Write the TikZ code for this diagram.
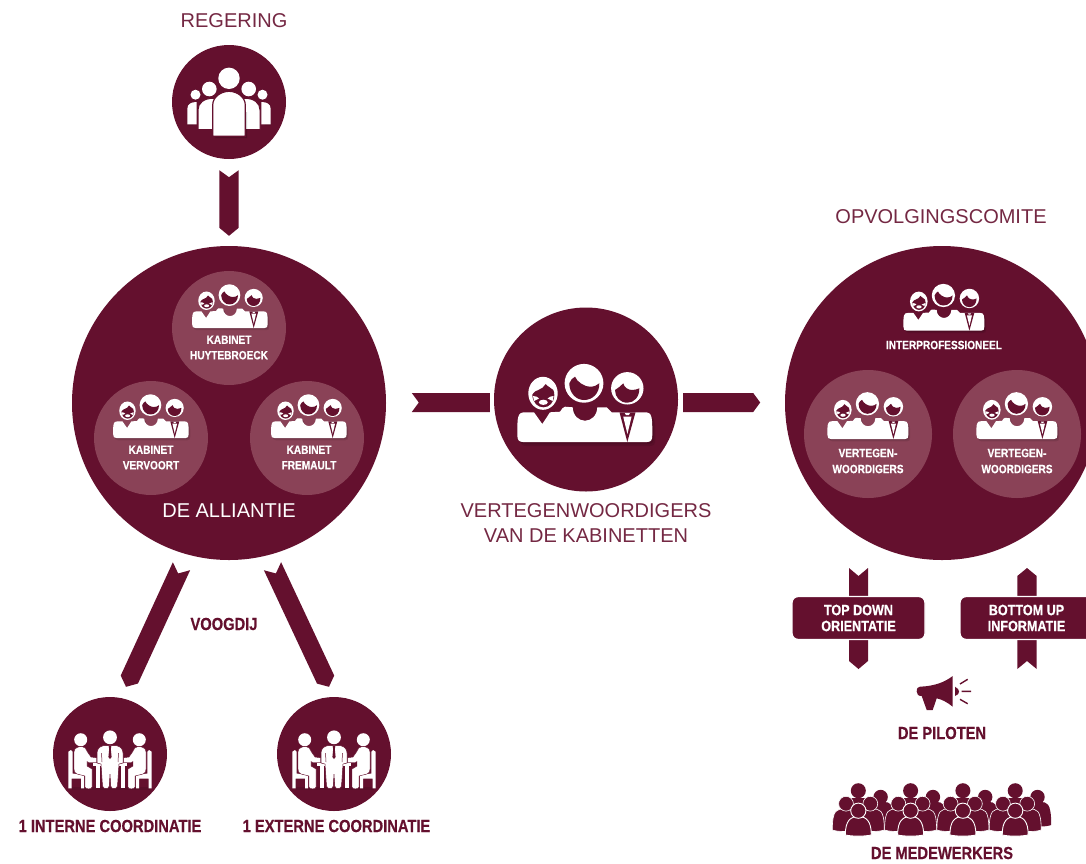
\documentclass[tikz,border=0pt]{standalone}
\usepackage{fontspec}
\usetikzlibrary{calc}
\setmainfont{Liberation Sans}
\newfontfamily\bcfam{Liberation Sans}[UprightFont=* Bold,FakeStretch=.84,FakeBold=.5]
\newcommand\bcf[2]{\bcfam\fontsize{#1}{#2}\selectfont}
\definecolor{wine}{HTML}{64102E}
\definecolor{rose}{HTML}{8A4257}
% trio icon shapes (origin: bottom centre of the bodies)
\newcommand\triobody{(-67.7,-7) .. controls (-67.7,-25) and (-67.7,-29.7) .. (-60,-29.7) -- (-51,-29.7) -- (-42.7,-18) -- (-35,-29.7) -- (-25,-30.3) .. controls (-23,-33) and (-22,-35.3) .. (-20,-35.3) -- (-12.3,-34.7) .. controls (-12,-26) and (-6,-21.3) .. (0,-21.3) .. controls (6,-21.3) and (12,-26) .. (12.3,-34.7) -- (21.7,-34.7) -- (26.7,-29.7) -- (60,-29.7) .. controls (67.3,-29.7) and (67.3,-25) .. (67.3,-7) .. controls (67.3,-2) and (66,0) .. (62,0) -- (-62,0) .. controls (-66,0) and (-67.7,-2) .. (-67.7,-7) -- cycle}
\newcommand\megaphone{(916.7,691.7) .. controls (916.7,688) and (918,686.7) .. (920,686.7) .. controls (935,686) and (945,682) .. (952.7,676) -- (952.7,706.7) .. controls (947,702) and (942,699.5) .. (936.7,698.3) -- (932.7,710) -- (926.7,710) -- (921.7,696) .. controls (918.5,696) and (916.7,694.5) .. (916.7,691.7) -- cycle}
\newcommand\crowdbody[4]{(#1-#3,#2) .. controls (#1-#3,#2-#4) and (#1-#3*.6,#2-#4) .. (#1,#2-#4) .. controls (#1+#3*.6,#2-#4) and (#1+#3,#2-#4) .. (#1+#3,#2) .. controls (#1+#3*.5,#2+2) and (#1-#3*.5,#2+2) .. (#1-#3,#2) -- cycle}
\tikzset{
  x=1pt,y=-1pt,
  disc/.style={circle,fill=wine,inner sep=0pt,minimum size=#1},
  rdisc/.style={circle,fill=rose,inner sep=0pt,minimum size=#1},
  thinlabel/.style={text=wine!90!white,inner sep=0pt,align=center,font=\fontsize{20}{25}\selectfont},
  boldlabel/.style={text=wine,inner sep=0pt,align=center,font=\bcf{17.5}{18}},
  whitelabel/.style={text=white,inner sep=0pt,align=center,font=\bcf{12}{15.5}},
  ribbonbox/.style={rounded corners=6pt,fill=wine,draw=white,line width=1.4pt,minimum width=133pt,minimum height=43pt,inner sep=0pt,text=white,align=center,font=\bcf{15}{16}},
  pics/trio/.style={code={
    \fill[black,opacity=.10] [shift={(3,4)}] \triobody;
    \fill[black,opacity=.10] [shift={(1.5,2)}] \triobody;
    \fill[white] \triobody;
    % left head
    \fill[white] (-42,-48.7) ellipse [x radius=14.7,y radius=16.5];
    \fill[wine] (-52.7,-47.5) .. controls (-51,-50) and (-49,-51.5) .. (-46.7,-52) .. controls (-43.5,-53) and (-41,-55) .. (-39.3,-58) .. controls (-37,-55) and (-33.5,-54) .. (-31.7,-52) .. controls (-31,-50.5) and (-30.7,-49) .. (-30.7,-47) .. controls (-31,-39) and (-36,-34.7) .. (-41.7,-34.7) .. controls (-47,-34.7) and (-52.5,-39) .. (-52.7,-47.5) -- cycle;
    \fill[white] (-41.7,-39.7) ellipse [x radius=4.5,y radius=2.6];
    \fill[white] (-52,-46) .. controls (-49,-46) and (-47,-45) .. (-46,-43.5) .. controls (-48,-42.5) and (-50,-41.5) .. (-51,-41) -- cycle;
    \fill[white] (-31.4,-46) .. controls (-34,-46) and (-36,-45) .. (-37.4,-43.5) .. controls (-35.4,-42.5) and (-33.4,-41.5) .. (-32.4,-41) -- cycle;
    % middle head
    \fill[white] (-1,-58.7) circle [radius=19.4];
    \fill[wine] (-15.7,-58.7) .. controls (-15,-62) and (-12,-64) .. (-10,-65.3) .. controls (-8,-60) and (0,-55) .. (5,-55.3) .. controls (9,-55.3) and (12,-56.5) .. (14.3,-58.7) .. controls (14.5,-49) and (8,-42) .. (-1,-42) .. controls (-9,-42) and (-15.7,-49) .. (-15.7,-58.7) -- cycle;
    % right head
    \fill[white] (42.3,-53.7) circle [radius=16.2];
    \fill[wine] (30,-52) .. controls (33,-54) and (36,-56) .. (38.3,-58.7) .. controls (39,-55) and (43,-52) .. (46.7,-52) .. controls (49,-52) and (52,-52.5) .. (54.3,-53.7) .. controls (54.5,-45) and (49,-39.3) .. (42.3,-39.3) .. controls (35,-39.3) and (30,-45) .. (30,-52) -- cycle;
    % tie
    \fill[wine] (34.5,-29.7) -- (42.3,0) -- (50.5,-29.7) -- cycle;
    \fill[white] (38.2,-25.5) -- (46.6,-25.5) -- (42.4,-8) -- cycle;
    \fill[white] (39.8,-29) -- (45,-29) -- (43.8,-26.8) -- (41,-26.8) -- cycle;
  }},
  pics/regicon/.style={code={
    \foreach \sx in {-1,1}{
      \fill[black,opacity=.12,xscale=\sx] (36,23.5) -- (41.5,23.5) -- (41.5,4) .. controls (41.5,0) and (36,0) .. (33,1) -- cycle;
      \fill[white,xscale=\sx] (33.5,-7.3) circle [radius=5];
      \fill[white,xscale=\sx] (32.3,22.3) -- (41.7,22.3) -- (41.7,7) .. controls (41.7,2) and (38,0) .. (32.3,0) -- cycle;
      \fill[white,xscale=\sx] (19.7,-13) circle [radius=7.3];
      \fill[white,xscale=\sx,draw=wine,line width=1pt] (12,27.7) -- (31,27.7) -- (31,8) .. controls (31,1) and (25,-3.7) .. (16,-3.7) .. controls (13,-3.7) and (12,-3) .. (10,-2) -- cycle;
    }
    \fill[black,opacity=.18] (-14.3,36) -- (18,36) -- (18,10) -- (14,10) -- cycle;
    \fill[white,draw=wine,line width=1.2pt] (-16.3,34.3) -- (-16.3,3) .. controls (-16.3,-5) and (-8,-10.7) .. (0,-10.7) .. controls (8,-10.7) and (16.3,-5) .. (16.3,3) -- (16.3,34.3) -- cycle;
    \fill[white] (0,-23.7) circle [radius=10.7];
  }},
  pics/meetside/.style={code={
    \fill[white] (-29.3,-14.3) circle [radius=6.5];
    % chair
    \fill[white] (-41.7,-2.3) -- (-39,-4) -- (-37.3,-2.3) -- (-37.3,19.5) -- (-26,21) -- (-26,34.3) -- (-29,34.3) -- (-29,24.5) -- (-38.5,24.5) -- (-38.5,34.3) -- (-41.7,34.3) -- cycle;
    % person
    \fill[white,draw=wine,line width=.4pt] (-36,-2) .. controls (-36,-6) and (-32,-7.5) .. (-28,-7.5) .. controls (-25,-7.5) and (-24,-5) .. (-22.5,-2) -- (-19,3) -- (-13.3,3.8) -- (-13.3,8.5) -- (-21,8.5) -- (-23,7.5) -- (-23,12) -- (-18,15) -- (-18,33) .. controls (-18,35.5) and (-24.8,35.5) .. (-25,33) -- (-25,22) -- (-33,20) .. controls (-35.5,19.5) and (-36,17) .. (-36,15) -- cycle;
  }},
  pics/meeting/.style={code={
    \fill[black,opacity=.10] (-38,36) -- (40,36) -- (40,33) -- (-38,33) -- cycle;
    \pic {meetside};
    \pic[xscale=-1] {meetside};
    % table
    \fill[white] (-16.7,9.3) -- (16.7,9.3) -- (16.7,12) -- (-16.7,12) -- cycle;
    \fill[white] (-14.5,12) -- (-10.5,12) -- (-10.5,34.3) -- (-14.5,34.3) -- cycle;
    \fill[white] (14.5,12) -- (10.5,12) -- (10.5,34.3) -- (14.5,34.3) -- cycle;
    % centre person
    \fill[white] (0,-16.7) circle [radius=6.9];
    \fill[white,draw=wine,line width=.5pt] (-6.7,-8.3) -- (6.7,-8.3) .. controls (10.5,-7.5) and (13,-5) .. (13,-1) -- (13,9) -- (9,10) -- (7.5,32) .. controls (7,35.5) and (1,35.5) .. (.7,32) -- (0,20) -- (-.7,32) .. controls (-1,35.5) and (-7,35.5) .. (-7.5,32) -- (-9,10) -- (-13,9) -- (-13,-1) .. controls (-13,-5) and (-10.5,-7.5) .. (-6.7,-8.3) -- cycle;
    \fill[wine] (-1.3,-8) -- (1.3,-8) -- (.8,-5) -- (1.6,3) -- (0,5) -- (-1.6,3) -- (-.8,-5) -- cycle;
    \draw[wine,line width=.5pt] (-8.5,-1) -- (-8,8);
    \draw[wine,line width=.5pt] (8.5,-1) -- (8,8);
  }},
  pics/crowdunit/.style={code={
    % far right
    \fill[wine] (22.3,-38) circle [radius=7.2];
    \fill[wine] \crowdbody{25}{-10}{11}{23};
    % back centre
    \fill[wine] (0,-44.3) circle [radius=7.5];
    \fill[wine] (-7,-37) rectangle (7,-25);
    % left/right of the middle row
    \fill[wine,draw=white,line width=.6pt] \crowdbody{-14}{-5}{12}{21};
    \fill[wine,draw=white,line width=.6pt] \crowdbody{14}{-5}{12}{21};
    \fill[wine,draw=white,line width=.6pt] (-12.3,-31.3) circle [radius=7.4];
    \fill[wine,draw=white,line width=.6pt] (12,-31.3) circle [radius=7.4];
    % front
    \fill[wine,draw=white,line width=.9pt] (-13,0) .. controls (-13,-14) and (-8,-18.5) .. (0,-18.5) .. controls (8,-18.5) and (13,-14) .. (13,0) .. controls (6,1.5) and (-6,1.5) .. (-13,0) -- cycle;
    \fill[wine,draw=white,line width=.9pt] (0,-24.3) circle [radius=7.6];
  }},
}
\newcommand\ribbon[5]{%
  \coordinate (rS) at ($(#1)!#4!(#2)$);
  \coordinate (rE) at ($(#2)!#5!(#1)$);
  \fill[wine] ($(#1)!#3!90:(#2)$) -- (rS) -- ($(#1)!#3!-90:(#2)$) -- ($(rE)!#3!90:(#1)$) -- (#2) -- ($(rE)!#3!-90:(#1)$) -- cycle;}
\begin{document}
\begin{tikzpicture}
\useasboundingbox (0,0) rectangle (1086,863);
% main discs
\node[disc=114pt] (reg) at (229,102) {};
\node[disc=314pt] (all) at (229,403) {};
\node[disc=184pt] (mid) at (586,399.5) {};
\node[disc=314pt] (opv) at (942,403) {};
\node[disc=114pt] (intc) at (110,754) {};
\node[disc=114pt] (extc) at (334,754) {};
% inner discs
\node[rdisc=114pt] (huy) at (229,328) {};
\node[rdisc=114pt] (ver) at (151,438) {};
\node[rdisc=114pt] (fre) at (307,438) {};
\node[rdisc=128pt] (vl) at (868,434) {};
\node[rdisc=128pt] (vr) at (1017,434) {};
% icons
\pic at (reg.center) {regicon};
\pic at ($(mid.center)+(-1,42.5)$) {trio};
\pic[scale=.56] at ($(huy.center)+(1,0)$) {trio};
\pic[scale=.56] at (ver.center) {trio};
\pic[scale=.56] at ($(fre.center)+(2,0)$) {trio};
\pic[scale=.6] at ($(opv.center)+(2,-72.3)$) {trio};
\pic[scale=.6] at ($(vl.center)+(0,5)$) {trio};
\pic[scale=.6] at ($(vr.center)+(0,5)$) {trio};
\pic at (intc.center) {meeting};
\pic at (extc.center) {meeting};
% connectors
\coordinate (a1s) at ($(reg.south)+(0,11)$);
\coordinate (a1e) at ($(all.north)+(0,-10)$);
\ribbon{a1s}{a1e}{9.7pt}{7pt}{8pt}
\coordinate (a2s) at ($(mid.west)+(-82,3)$);
\coordinate (a2e) at ($(mid.west)+(-4,3)$);
\ribbon{a2s}{a2e}{9.5pt}{7pt}{0pt}
\coordinate (a3s) at ($(mid.east)+(5,3)$);
\coordinate (a3e) at ($(mid.east)+(82,3)$);
\ribbon{a3s}{a3e}{9.5pt}{0pt}{7pt}
\coordinate (a4s) at ($(all.south)+(-47.5,6)$);
\coordinate (a4e) at ($(intc.north)+(16,-10)$);
\ribbon{a4s}{a4e}{9.5pt}{8pt}{8pt}
\coordinate (a5s) at ($(all.south)+(43.5,6)$);
\coordinate (a5e) at ($(extc.north)+(-5,-10)$);
\ribbon{a5s}{a5e}{9.5pt}{8pt}{8pt}
\coordinate (tdc) at (858.5,618);
\coordinate (buc) at (1026.5,618);
\coordinate (a6s) at ($(tdc)+(0,-50)$);
\coordinate (a6e) at ($(tdc)+(0,51)$);
\coordinate (a7s) at ($(buc)+(.5,51)$);
\coordinate (a7e) at ($(buc)+(.5,-50)$);
\ribbon{a6s}{a6e}{9.5pt}{8pt}{8pt}
\ribbon{a7s}{a7e}{9.7pt}{8pt}{8pt}
\node[ribbonbox] (td) at (tdc) {TOP DOWN\\ORIENTATIE};
\node[ribbonbox] (bu) at (buc) {BOTTOM UP\\INFORMATIE};
% labels
\node[thinlabel] (lreg) at (234,21) {REGERING};
\node[thinlabel] (lopv) at (941,217) {OPVOLGINGSCOMITE};
\node[thinlabel,text=white] (lall) at (229,511) {DE ALLIANTIE};
\node[thinlabel] (lmid) at (586,523.5) {VERTEGENWOORDIGERS\\VAN DE KABINETTEN};
\node[whitelabel] (t1) at (229,347.5) {KABINET\\HUYTEBROECK};
\node[whitelabel] (t2) at (151,457.5) {KABINET\\VERVOORT};
\node[whitelabel] (t3) at (309,457.5) {KABINET\\FREMAULT};
\node[whitelabel] (t4) at (944,345) {INTERPROFESSIONEEL};
\node[whitelabel,font=\bcf{12}{16}] (t5) at (868,461) {VERTEGEN-\\WOORDIGERS};
\node[whitelabel,font=\bcf{12}{16}] (t6) at (1017,461) {VERTEGEN-\\WOORDIGERS};
\node[boldlabel] (vg) at (224,624) {VOOGDIJ};
\node[boldlabel] (l1) at (110,826) {1 INTERNE COORDINATIE};
\node[boldlabel] (l2) at (336.5,826) {1 EXTERNE COORDINATIE};
\node[boldlabel] (l3) at (942,733) {DE PILOTEN};
\node[boldlabel] (l4) at (942,853) {DE MEDEWERKERS};
% megaphone
\fill[wine] \megaphone;
\fill[wine] (955,686.7) .. controls (958,688) and (959,690) .. (959,691.7) .. controls (959,693.5) and (958,695) .. (955,696) -- cycle;
\draw[wine,line width=1.4pt] (960,684) -- (967.7,679.3) (961.7,691.3) -- (971,691.3) (960,699.3) -- (967.7,703.7);
% crowd
\coordinate (cr) at (858.3,835);
\foreach \k in {0,1,2,3} \pic at ($(cr)+(52.3*\k,0)$) {crowdunit};
\end{tikzpicture}
\end{document}
